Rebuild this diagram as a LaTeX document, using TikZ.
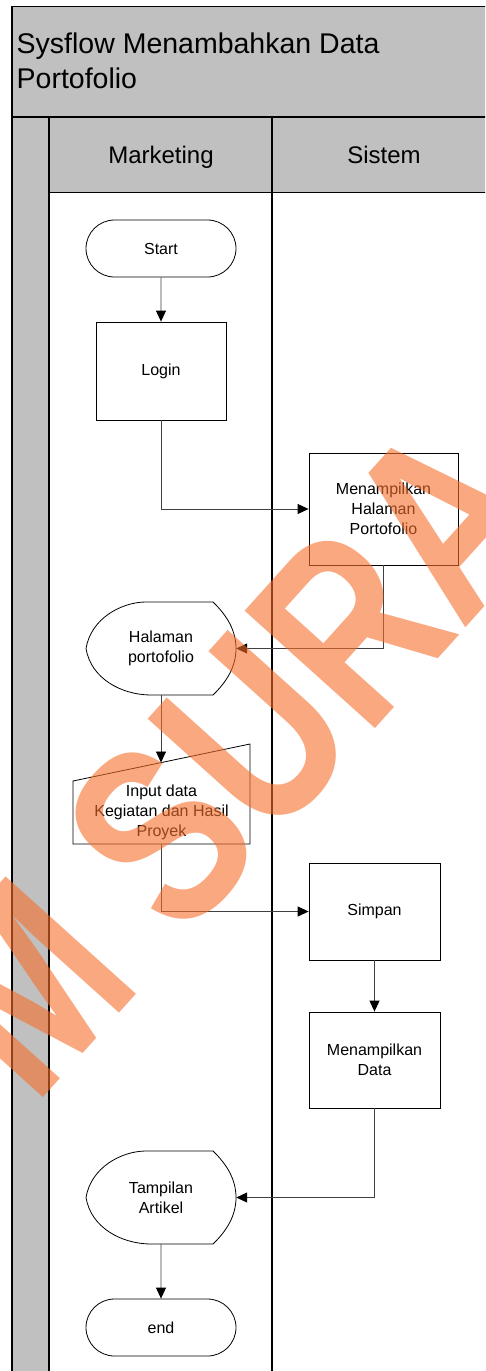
\documentclass[tikz,border=0pt]{standalone}
\usepackage{fontspec}
\setmainfont{Liberation Sans}
\usetikzlibrary{shapes.misc,arrows.meta,calc}
\definecolor{lanegray}{RGB}{192,192,192}
\definecolor{wm}{RGB}{246,110,43}
\tikzset{
  frame/.style={draw=black,line width=1.1pt},
  nodetext/.style={font=\fontsize{16}{20}\selectfont,align=center,inner sep=0pt},
  terminal/.style={nodetext,draw=black,line width=0.8pt,rounded rectangle,minimum width=150pt,minimum height=57pt},
  process/.style={nodetext,draw=black,line width=0.8pt,rectangle,minimum width=130pt,minimum height=97pt},
  shapeline/.style={draw=black,line width=0.8pt},
  plain/.style={nodetext,draw=none,rectangle},
  conn/.style={draw=black!75,line width=0.9pt,-{Triangle[length=11pt,width=10pt,fill=black,color=black]}},
}
\begin{document}
\begin{tikzpicture}[x=1pt,y=-1pt]
\useasboundingbox (0,0) rectangle (485,1371);
\fill[white] (0,0) rectangle (485,1371);
\clip (0,0) rectangle (485,1371);
% pool background
\fill[lanegray] (12,6.5) rectangle (500,117);
\fill[lanegray] (49,117) rectangle (500,192.5);
\fill[lanegray] (12,117) rectangle (49,1380);
\draw[frame] (500,6.5) -- (12,6.5) -- (12,1380);
\draw[frame] (12,117) -- (500,117);
\draw[frame] (49,117) -- (49,1380);
\draw[frame] (49,192.5) -- (500,192.5);
\draw[frame] (272,117) -- (272,1380);
% title and headers
\node[anchor=base west,inner sep=0pt,font=\fontsize{28.5}{35}\selectfont] (title1) at (16.5,53) {Sysflow Menambahkan Data};
\node[anchor=base west,inner sep=0pt,font=\fontsize{28.5}{35}\selectfont] (title2) at (16.5,88) {Portofolio};
\node[anchor=base,inner sep=0pt,font=\fontsize{24}{28}\selectfont] (hmkt) at (161,163) {Marketing};
\node[anchor=base,inner sep=0pt,font=\fontsize{24}{28}\selectfont] (hsys) at (384,163) {Sistem};
% nodes
\node[terminal] (start) at (161,248.5) {Start};
\node[process,minimum width=130pt,minimum height=98pt] (login) at (161,371) {Login};
\node[process,minimum width=149pt,minimum height=112pt] (mhp) at (383.5,509) {Menampilkan\\Halaman\\Portofolio};
\node[plain,minimum width=150pt,minimum height=93pt] (hal) at (161,648.5) {Halaman\\portofolio};
\draw[shapeline,shift={(hal.center)}] (-16,-46.5) -- (52,-46.5)
  .. controls (66,-33) and (75,-18) .. (75,0)
  .. controls (75,18) and (66,33) .. (52,46.5) -- (-11,46.5)
  .. controls (-40,46) and (-70,30) .. (-75,0)
  .. controls (-70,-30) and (-40,-46) .. (-16,-46.5) -- cycle;
\node[plain,minimum width=177pt,minimum height=64pt] (inp) at (161.5,812) {Input data\\Kegiatan dan Hasil\\Proyek};
\draw[shapeline] (73,781) -- (250,744) -- (250,844) -- (73,844) -- cycle;
\coordinate (inptop) at (161,762.5);
\node[process,minimum width=131pt,minimum height=97pt] (simpan) at (374.5,911.5) {Simpan};
\node[process,minimum width=131pt,minimum height=96pt] (mdata) at (374.5,1060) {Menampilkan\\Data};
\node[plain,minimum width=150pt,minimum height=93pt] (tamp) at (161,1197.5) {Tampilan\\Artikel};
\draw[shapeline,shift={(tamp.center)}] (-16,-46.5) -- (52,-46.5)
  .. controls (66,-33) and (75,-18) .. (75,0)
  .. controls (75,18) and (66,33) .. (52,46.5) -- (-11,46.5)
  .. controls (-40,46) and (-70,30) .. (-75,0)
  .. controls (-70,-30) and (-40,-46) .. (-16,-46.5) -- cycle;
\node[terminal] (endn) at (161,1327.5) {end};
% connectors
\draw[conn] (start) -- (login);
\draw[conn] (login.south) |- (mhp.west);
\draw[conn] (mhp.south) |- (hal.east);
\draw[conn] (hal.south) -- (inptop);
\draw[conn] (inp.south) |- (simpan.west);
\draw[conn] (simpan) -- (mdata);
\draw[conn] (mdata.south) |- (tamp.east);
\draw[conn] (tamp.south) -- (endn);
% watermark
\begin{scope}[shift={(34,1108)},rotate=48,xscale=0.78,transform shape]
\node[anchor=base west,inner sep=0pt,font=\fontsize{255}{255}\selectfont\bfseries,text=wm,text opacity=0.6] (wmark) at (0,0) {M SURA};
\end{scope}
\end{tikzpicture}
\end{document}
